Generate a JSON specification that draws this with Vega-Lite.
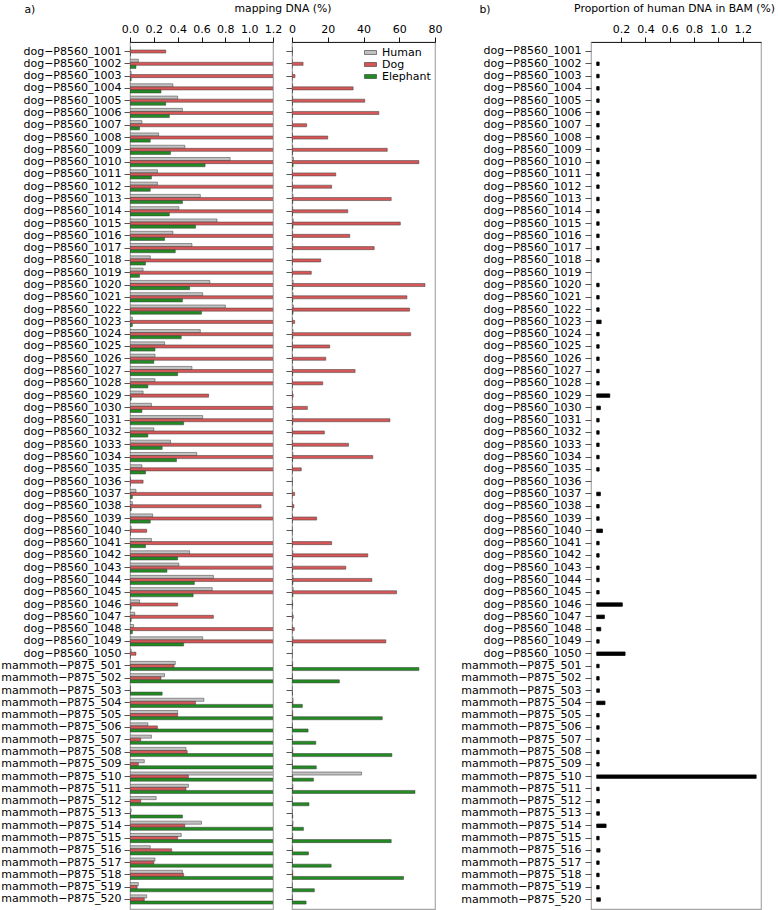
{
  "$schema": "https://vega.github.io/schema/vega-lite/v6.json",
  "padding": {"left": 0, "top": 1, "right": 0, "bottom": 0},
  "background": "white",
  "config": {
    "font": "DejaVu Sans",
    "view": {"stroke": "#a8a8a8", "strokeWidth": 1.2},
    "axis": {
      "labelFont": "DejaVu Sans", "labelFontSize": 11, "labelColor": "#000",
      "titleFont": "DejaVu Sans", "titleFontSize": 10.8, "titleFontWeight": "normal", "titleColor": "#000",
      "tickColor": "#333", "domainColor": "#222", "grid": false,
      "labelFlush": false, "labelOverlap": false
    },
    "legend": {"labelFont": "DejaVu Sans", "labelFontSize": 11, "labelColor": "#000"}
  },
  "data": {"values": [
    {"sample": "dog−P8560_1001", "Human": 0.005, "Dog": 0.30, "Elephant": 0.003, "BAM": 0},
    {"sample": "dog−P8560_1002", "Human": 0.07, "Dog": 6.2, "Elephant": 0.05, "BAM": 0.02},
    {"sample": "dog−P8560_1003", "Human": 0.01, "Dog": 1.7, "Elephant": 0.01, "BAM": 0.02},
    {"sample": "dog−P8560_1004", "Human": 0.36, "Dog": 34.2, "Elephant": 0.26, "BAM": 0.02},
    {"sample": "dog−P8560_1005", "Human": 0.40, "Dog": 40.7, "Elephant": 0.30, "BAM": 0.02},
    {"sample": "dog−P8560_1006", "Human": 0.44, "Dog": 48.6, "Elephant": 0.33, "BAM": 0.02},
    {"sample": "dog−P8560_1007", "Human": 0.10, "Dog": 8.2, "Elephant": 0.08, "BAM": 0.02},
    {"sample": "dog−P8560_1008", "Human": 0.24, "Dog": 20.0, "Elephant": 0.17, "BAM": 0.02},
    {"sample": "dog−P8560_1009", "Human": 0.46, "Dog": 53.3, "Elephant": 0.34, "BAM": 0.02},
    {"sample": "dog−P8560_1010", "Human": 0.84, "Dog": 71.0, "Elephant": 0.63, "BAM": 0.02},
    {"sample": "dog−P8560_1011", "Human": 0.23, "Dog": 24.5, "Elephant": 0.18, "BAM": 0.02},
    {"sample": "dog−P8560_1012", "Human": 0.23, "Dog": 22.2, "Elephant": 0.17, "BAM": 0.02},
    {"sample": "dog−P8560_1013", "Human": 0.59, "Dog": 55.5, "Elephant": 0.44, "BAM": 0.02},
    {"sample": "dog−P8560_1014", "Human": 0.41, "Dog": 31.2, "Elephant": 0.33, "BAM": 0.02},
    {"sample": "dog−P8560_1015", "Human": 0.73, "Dog": 60.6, "Elephant": 0.55, "BAM": 0.02},
    {"sample": "dog−P8560_1016", "Human": 0.36, "Dog": 32.3, "Elephant": 0.29, "BAM": 0.02},
    {"sample": "dog−P8560_1017", "Human": 0.52, "Dog": 46.0, "Elephant": 0.38, "BAM": 0.02},
    {"sample": "dog−P8560_1018", "Human": 0.17, "Dog": 16.1, "Elephant": 0.13, "BAM": 0.02},
    {"sample": "dog−P8560_1019", "Human": 0.11, "Dog": 10.8, "Elephant": 0.08, "BAM": 0},
    {"sample": "dog−P8560_1020", "Human": 0.67, "Dog": 74.4, "Elephant": 0.50, "BAM": 0.02},
    {"sample": "dog−P8560_1021", "Human": 0.61, "Dog": 64.3, "Elephant": 0.44, "BAM": 0.02},
    {"sample": "dog−P8560_1022", "Human": 0.80, "Dog": 65.8, "Elephant": 0.60, "BAM": 0.02},
    {"sample": "dog−P8560_1023", "Human": 0.02, "Dog": 1.5, "Elephant": 0.02, "BAM": 0.036},
    {"sample": "dog−P8560_1024", "Human": 0.59, "Dog": 66.4, "Elephant": 0.43, "BAM": 0.02},
    {"sample": "dog−P8560_1025", "Human": 0.29, "Dog": 21.1, "Elephant": 0.21, "BAM": 0.02},
    {"sample": "dog−P8560_1026", "Human": 0.21, "Dog": 18.9, "Elephant": 0.20, "BAM": 0.02},
    {"sample": "dog−P8560_1027", "Human": 0.52, "Dog": 35.3, "Elephant": 0.40, "BAM": 0.02},
    {"sample": "dog−P8560_1028", "Human": 0.21, "Dog": 17.2, "Elephant": 0.15, "BAM": 0.02},
    {"sample": "dog−P8560_1029", "Human": 0.11, "Dog": 0.66, "Elephant": 0.01, "BAM": 0.107},
    {"sample": "dog−P8560_1030", "Human": 0.18, "Dog": 8.6, "Elephant": 0.10, "BAM": 0.03},
    {"sample": "dog−P8560_1031", "Human": 0.61, "Dog": 54.8, "Elephant": 0.45, "BAM": 0.02},
    {"sample": "dog−P8560_1032", "Human": 0.20, "Dog": 18.1, "Elephant": 0.15, "BAM": 0.02},
    {"sample": "dog−P8560_1033", "Human": 0.34, "Dog": 31.6, "Elephant": 0.27, "BAM": 0.02},
    {"sample": "dog−P8560_1034", "Human": 0.56, "Dog": 45.2, "Elephant": 0.39, "BAM": 0.02},
    {"sample": "dog−P8560_1035", "Human": 0.10, "Dog": 5.2, "Elephant": 0.13, "BAM": 0.02},
    {"sample": "dog−P8560_1036", "Human": 0.003, "Dog": 0.11, "Elephant": 0.002, "BAM": 0},
    {"sample": "dog−P8560_1037", "Human": 0.05, "Dog": 1.5, "Elephant": 0.02, "BAM": 0.03},
    {"sample": "dog−P8560_1038", "Human": 0.02, "Dog": 1.10, "Elephant": 0.01, "BAM": 0.02},
    {"sample": "dog−P8560_1039", "Human": 0.19, "Dog": 13.8, "Elephant": 0.17, "BAM": 0.02},
    {"sample": "dog−P8560_1040", "Human": 0.01, "Dog": 0.14, "Elephant": 0.003, "BAM": 0.047},
    {"sample": "dog−P8560_1041", "Human": 0.18, "Dog": 22.2, "Elephant": 0.13, "BAM": 0.02},
    {"sample": "dog−P8560_1042", "Human": 0.50, "Dog": 42.4, "Elephant": 0.40, "BAM": 0.02},
    {"sample": "dog−P8560_1043", "Human": 0.41, "Dog": 30.1, "Elephant": 0.31, "BAM": 0.02},
    {"sample": "dog−P8560_1044", "Human": 0.70, "Dog": 44.7, "Elephant": 0.54, "BAM": 0.02},
    {"sample": "dog−P8560_1045", "Human": 0.69, "Dog": 58.5, "Elephant": 0.53, "BAM": 0.02},
    {"sample": "dog−P8560_1046", "Human": 0.08, "Dog": 0.40, "Elephant": 0.01, "BAM": 0.21},
    {"sample": "dog−P8560_1047", "Human": 0.04, "Dog": 0.70, "Elephant": 0.01, "BAM": 0.063},
    {"sample": "dog−P8560_1048", "Human": 0.03, "Dog": 1.3, "Elephant": 0.02, "BAM": 0.033},
    {"sample": "dog−P8560_1049", "Human": 0.61, "Dog": 52.5, "Elephant": 0.45, "BAM": 0.02},
    {"sample": "dog−P8560_1050", "Human": 0.01, "Dog": 0.05, "Elephant": 0.002, "BAM": 0.233},
    {"sample": "mammoth−P875_501", "Human": 0.38, "Dog": 0.37, "Elephant": 71.0, "BAM": 0.02},
    {"sample": "mammoth−P875_502", "Human": 0.29, "Dog": 0.26, "Elephant": 26.5, "BAM": 0.02},
    {"sample": "mammoth−P875_503", "Human": 0.005, "Dog": 0.002, "Elephant": 0.27, "BAM": 0.022},
    {"sample": "mammoth−P875_504", "Human": 0.62, "Dog": 0.55, "Elephant": 5.8, "BAM": 0.068},
    {"sample": "mammoth−P875_505", "Human": 0.40, "Dog": 0.40, "Elephant": 50.5, "BAM": 0.02},
    {"sample": "mammoth−P875_506", "Human": 0.15, "Dog": 0.23, "Elephant": 9.0, "BAM": 0.02},
    {"sample": "mammoth−P875_507", "Human": 0.18, "Dog": 0.09, "Elephant": 13.3, "BAM": 0.02},
    {"sample": "mammoth−P875_508", "Human": 0.47, "Dog": 0.48, "Elephant": 55.9, "BAM": 0.02},
    {"sample": "mammoth−P875_509", "Human": 0.12, "Dog": 0.07, "Elephant": 13.6, "BAM": 0.02},
    {"sample": "mammoth−P875_510", "Human": 38.9, "Dog": 0.49, "Elephant": 12.0, "BAM": 1.31},
    {"sample": "mammoth−P875_511", "Human": 0.49, "Dog": 0.47, "Elephant": 68.8, "BAM": 0.02},
    {"sample": "mammoth−P875_512", "Human": 0.22, "Dog": 0.09, "Elephant": 9.5, "BAM": 0.022},
    {"sample": "mammoth−P875_513", "Human": 0.01, "Dog": 0.002, "Elephant": 0.44, "BAM": 0.022},
    {"sample": "mammoth−P875_514", "Human": 0.60, "Dog": 0.46, "Elephant": 6.4, "BAM": 0.077},
    {"sample": "mammoth−P875_515", "Human": 0.43, "Dog": 0.40, "Elephant": 55.5, "BAM": 0.02},
    {"sample": "mammoth−P875_516", "Human": 0.17, "Dog": 0.35, "Elephant": 9.2, "BAM": 0.027},
    {"sample": "mammoth−P875_517", "Human": 0.21, "Dog": 0.20, "Elephant": 21.9, "BAM": 0.02},
    {"sample": "mammoth−P875_518", "Human": 0.44, "Dog": 0.45, "Elephant": 62.4, "BAM": 0.02},
    {"sample": "mammoth−P875_519", "Human": 0.07, "Dog": 0.06, "Elephant": 12.5, "BAM": 0.02},
    {"sample": "mammoth−P875_520", "Human": 0.14, "Dog": 0.12, "Elephant": 7.9, "BAM": 0.03}
  ]},
  "spacing": 17,
  "hconcat": [
    {
      "bounds": "flush",
      "spacing": 19,
      "resolve": {"scale": {"color": "independent"}, "legend": {"color": "independent"}},
      "hconcat": [
        {
          "width": 143, "height": 867,
          "transform": [{"fold": ["Human", "Dog", "Elephant"], "as": ["species", "value"]}],
          "mark": {"type": "bar", "clip": true, "stroke": "#3a3a3a", "strokeWidth": 0.5},
          "encoding": {
            "y": {"field": "sample", "type": "nominal", "sort": null,
                  "scale": {"paddingInner": 0.25, "paddingOuter": 0.4},
                  "axis": {"title": "a)", "titleAngle": 0, "titleX": -106, "titleY": -33, "titleAlign": "left", "titleBaseline": "middle",
                           "domain": false, "tickSize": 6, "labelPadding": 3, "tickColor": "#555"}},
            "yOffset": {"field": "species", "type": "nominal", "sort": ["Human", "Dog", "Elephant"],
                        "scale": {"paddingInner": 0, "paddingOuter": 0}},
            "x": {"field": "value", "type": "quantitative",
                  "scale": {"domain": [0, 1.2], "nice": false},
                  "axis": {"orient": "top", "values": [0, 0.2, 0.4, 0.6, 0.8, 1.0, 1.2], "format": ".1f",
                           "title": "mapping DNA (%)", "titleX": 152.5, "titleY": -31, "titleAlign": "center", "titleBaseline": "alphabetic",
                           "tickSize": 5, "labelPadding": 3, "tickColor": "#111"}},
            "color": {"field": "species", "type": "nominal",
                      "scale": {"domain": ["Human", "Dog", "Elephant"], "range": ["#c2c2c2", "#d65757", "#228b22"]},
                      "legend": null}
          }
        },
        {
          "width": 143, "height": 867,
          "transform": [{"fold": ["Human", "Dog", "Elephant"], "as": ["species", "value"]}],
          "mark": {"type": "bar", "clip": true, "stroke": "#3a3a3a", "strokeWidth": 0.5},
          "encoding": {
            "y": {"field": "sample", "type": "nominal", "sort": null,
                  "scale": {"paddingInner": 0.25, "paddingOuter": 0.4},
                  "axis": {"title": null, "labels": false, "domain": false, "tickSize": 6, "tickColor": "#555"}},
            "yOffset": {"field": "species", "type": "nominal", "sort": ["Human", "Dog", "Elephant"],
                        "scale": {"paddingInner": 0, "paddingOuter": 0}},
            "x": {"field": "value", "type": "quantitative",
                  "scale": {"domain": [0, 80], "nice": false},
                  "axis": {"orient": "top", "values": [0, 20, 40, 60, 80], "title": null,
                           "tickSize": 5, "labelPadding": 3, "tickColor": "#111"}},
            "color": {"field": "species", "type": "nominal",
                      "scale": {"domain": ["Human", "Dog", "Elephant"], "range": ["#c2c2c2", "#d65757", "#228b22"]},
                      "legend": {"orient": "top-right", "offset": 4, "title": null, "padding": 0,
                                 "symbolType": "M-1,-0.33H1V0.33H-1Z", "symbolSize": 144,
                                 "symbolStrokeColor": "#333", "symbolStrokeWidth": 0.6,
                                 "labelOffset": 5, "rowPadding": 0}}
          }
        }
      ]
    },
    {
      "width": 170, "height": 867,
      "mark": {"type": "bar", "color": "black", "stroke": "black"},
      "encoding": {
        "y": {"field": "sample", "type": "nominal", "sort": null,
              "scale": {"paddingInner": 0.72, "paddingOuter": 0.63},
              "axis": {"title": "b)", "titleAngle": 0, "titleX": -112, "titleY": -33, "titleAlign": "left", "titleBaseline": "middle",
                       "domain": false, "tickSize": 6, "labelPadding": 4, "tickColor": "#555"}},
        "x": {"field": "BAM", "type": "quantitative",
              "scale": {"domain": [-0.047, 1.35], "nice": false, "zero": false},
              "axis": {"orient": "top", "values": [0.2, 0.4, 0.6, 0.8, 1.0, 1.2], "format": ".1f",
                       "title": "Proportion of human DNA in BAM (%)", "titleX": 83, "titleY": -31, "titleAlign": "center", "titleBaseline": "alphabetic",
                       "tickSize": 5, "labelPadding": 3, "tickColor": "#111"}},
        "strokeWidth": {"condition": {"test": "datum.BAM > 0", "value": 0.8}, "value": 0}
      }
    }
  ]
}
